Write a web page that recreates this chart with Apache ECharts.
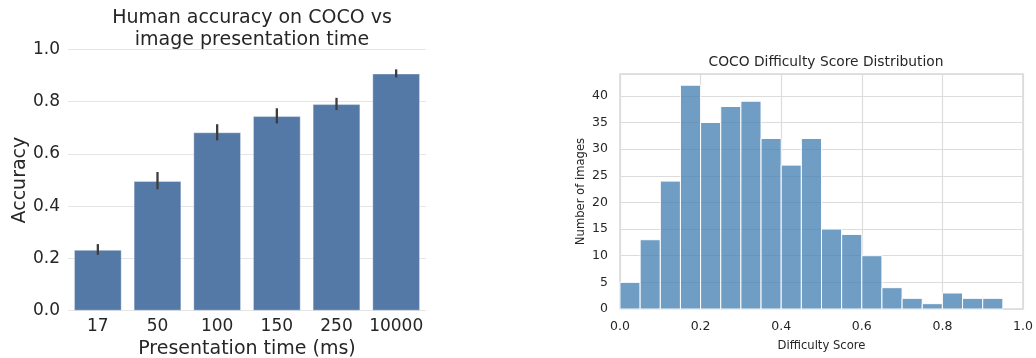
<!DOCTYPE html>
<html>
<head>
<meta charset="utf-8">
<script src="https://cdn.jsdelivr.net/npm/echarts@6/dist/echarts.min.js"></script>
<style>html,body{margin:0;padding:0;background:#fff}#c{width:1036px;height:358px}</style>
</head>
<body>
<div id="c"></div>
<script>
// Left chart: accuracy vs presentation time
const times = ['17', '50', '100', '150', '250', '10000'];
const accuracy = [0.233, 0.497, 0.683, 0.745, 0.791, 0.908];
const accLow = [0.214, 0.465, 0.652, 0.717, 0.768, 0.893];
const accHigh = [0.255, 0.531, 0.714, 0.775, 0.815, 0.924];

// Right chart: difficulty histogram (bin start, bin end, count)
const binStart = [0.00, 0.05, 0.10, 0.15, 0.20, 0.25, 0.30, 0.35, 0.40, 0.45, 0.50, 0.55, 0.60, 0.65, 0.70, 0.75, 0.80, 0.85, 0.90];
const binEnd   = [0.05, 0.10, 0.15, 0.20, 0.25, 0.30, 0.35, 0.40, 0.45, 0.50, 0.55, 0.60, 0.65, 0.70, 0.75, 0.80, 0.85, 0.90, 0.95];
const counts   = [5, 13, 24, 42, 35, 38, 39, 32, 27, 32, 15, 14, 10, 4, 2, 1, 3, 2, 2];

const FONT = 'DejaVu Sans';
const TXT = '#262626';

const errData = times.map((t, i) => [i, accLow[i], accHigh[i]]);
const histData = binStart.map((s, i) => [s, binEnd[i], counts[i]]);

const chart = echarts.init(document.getElementById('c'), null, {renderer: 'canvas'});
chart.setOption({
  animation: false,
  backgroundColor: '#fff',
  textStyle: {fontFamily: FONT, color: TXT},
  title: [
    {text: 'Human accuracy on COCO vs\nimage presentation time', left: 247, textAlign: 'center', top: 2,
     textStyle: {fontFamily: FONT, fontSize: 19, fontWeight: 'normal', color: TXT, lineHeight: 22}},
    {text: 'COCO Difficulty Score Distribution', left: 821, textAlign: 'center', top: 50,
     textStyle: {fontFamily: FONT, fontSize: 13.8, fontWeight: 'normal', color: TXT}}
  ],
  grid: [
    {left: 68, right: 610, top: 49.5, bottom: 47.3, containLabel: false, outerBoundsMode: 'none'},
    {left: 620, right: 13, top: 74, bottom: 49, containLabel: false, outerBoundsMode: 'none',
     show: true, borderColor: '#d9d9d9', borderWidth: 1.5, backgroundColor: 'transparent'}
  ],
  xAxis: [
    {type: 'category', gridIndex: 0, data: times,
     axisLine: {show: false}, axisTick: {show: false},
     axisLabel: {fontFamily: FONT, fontSize: 17, color: TXT, margin: 7, interval: 0},
     name: 'Presentation time (ms)', nameLocation: 'middle', nameGap: 24,
     nameTextStyle: {fontFamily: FONT, fontSize: 19, color: TXT}},
    {type: 'value', gridIndex: 1, min: 0, max: 1, interval: 0.2,
     axisLine: {show: false}, axisTick: {show: false},
     splitLine: {show: true, lineStyle: {color: '#dcdcdc', width: 1.2}},
     axisLabel: {fontFamily: FONT, fontSize: 12.5, color: TXT, margin: 11, formatter: v => v.toFixed(1)},
     name: 'Difficulty Score', nameLocation: 'middle', nameGap: 31,
     nameTextStyle: {fontFamily: FONT, fontSize: 11.6, color: TXT}}
  ],
  yAxis: [
    {type: 'value', gridIndex: 0, min: 0, max: 1, interval: 0.2,
     axisLine: {show: false}, axisTick: {show: false},
     splitLine: {show: true, lineStyle: {color: '#e5e5e5', width: 1}},
     axisLabel: {fontFamily: FONT, fontSize: 17, color: TXT, margin: 8, formatter: v => v.toFixed(1)},
     name: 'Accuracy', nameLocation: 'middle', nameGap: 37,
     nameTextStyle: {fontFamily: FONT, fontSize: 19, color: TXT}},
    {type: 'value', gridIndex: 1, min: 0, max: 44.1, interval: 5,
     axisLine: {show: false}, axisTick: {show: false},
     splitLine: {show: true, lineStyle: {color: '#dcdcdc', width: 1.2}},
     axisLabel: {fontFamily: FONT, fontSize: 12.5, color: TXT, margin: 12,
       formatter: v => (Math.abs(v - 44.1) < 0.01 ? '' : String(v))},
     name: 'Number of images', nameLocation: 'middle', nameGap: 33,
     nameTextStyle: {fontFamily: FONT, fontSize: 11.6, color: TXT}}
  ],
  series: [
    {type: 'bar', xAxisIndex: 0, yAxisIndex: 0, data: accuracy, barWidth: '80%',
     itemStyle: {color: '#5579a6', borderColor: 'rgba(255,255,255,0.35)', borderWidth: 1}, z: 2},
    {type: 'custom', xAxisIndex: 0, yAxisIndex: 0, data: errData, z: 3,
     renderItem: function (params, api) {
       const p1 = api.coord([api.value(0), api.value(1)]);
       const p2 = api.coord([api.value(0), api.value(2)]);
       return {type: 'line', shape: {x1: p1[0], y1: p1[1], x2: p2[0], y2: p2[1]},
               style: {stroke: '#3d3d3d', lineWidth: 2.3}};
     }},
    {type: 'custom', xAxisIndex: 1, yAxisIndex: 1, data: histData, z: 2,
     renderItem: function (params, api) {
       const a = api.coord([api.value(0), api.value(2)]);
       const b = api.coord([api.value(1), 0]);
       return {type: 'rect', shape: {x: a[0], y: a[1], width: b[0] - a[0], height: b[1] - a[1]},
               style: {fill: 'rgba(70,130,180,0.78)', stroke: '#ffffff', lineWidth: 1}};
     }}
  ]
});
</script>
</body>
</html>
